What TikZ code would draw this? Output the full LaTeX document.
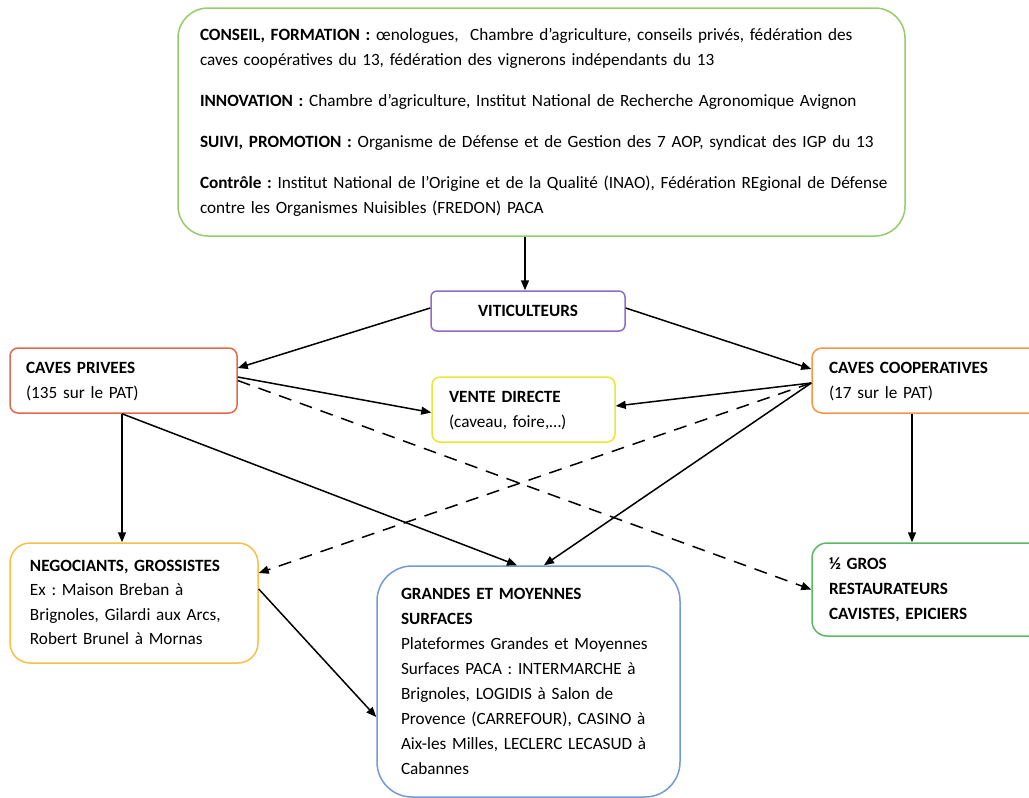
\documentclass[tikz,border=0pt]{standalone}
\usepackage{fontspec}
\setmainfont{Carlito}
\usetikzlibrary{arrows.meta}
\frenchspacing
\definecolor{cTop}{RGB}{150,205,105}
\definecolor{cVit}{RGB}{140,110,200}
\definecolor{cCp}{RGB}{228,105,75}
\definecolor{cVd}{RGB}{238,228,50}
\definecolor{cCc}{RGB}{247,150,75}
\definecolor{cNeg}{RGB}{250,192,70}
\definecolor{cGms}{RGB}{115,155,215}
\definecolor{cGros}{RGB}{90,185,100}
\newcommand{\boxlines}[1]{\begin{tabular}{@{}l@{}}#1\end{tabular}}
\tikzset{
  box/.style={draw, line width=1.5pt, align=left, inner ysep=0pt, font=\fontsize{17.2}{25}\selectfont},
  arr/.style={draw, line width=1.5pt, -{Triangle[length=10pt,width=8pt]}},
  darr/.style={arr, dash pattern=on 13pt off 9pt}
}
\begin{document}
\begin{tikzpicture}[x=1pt,y=-1pt]
\clip (0,0) rectangle (1029,798);
\fill[white] (0,0) rectangle (1029,798);

\node[box, draw=cTop, rounded corners=30pt, text width=683pt, inner xsep=22pt, minimum height=228pt] (top) at (541.5,122)
{\boxlines{\textbf{CONSEIL, FORMATION :} œnologues,\ \ Chambre d’agriculture, conseils privés, fédération des\\
caves coopératives du 13, fédération des vignerons indépendants du 13\\[16pt]
\textbf{INNOVATION :} Chambre d’agriculture, Institut National de Recherche Agronomique Avignon\\[16pt]
\textbf{SUIVI, PROMOTION :} Organisme de Défense et de Gestion des 7 AOP, syndicat des IGP du 13\\[16pt]
\textbf{Contrôle :} Institut National de l’Origine et de la Qualité (INAO), Fédération REgional de Défense\\
contre les Organismes Nuisibles (FREDON) PACA}};

\node[box, draw=cVit, rounded corners=6pt, align=center, text width=160pt, inner xsep=17pt, minimum height=40pt] (vit) at (528,311) {\textbf{VITICULTEURS}};

\node[box, draw=cCp, rounded corners=8pt, text width=195pt, inner xsep=16pt, minimum height=65pt] (cp) at (123.5,380.5)
{\boxlines{\textbf{CAVES PRIVEES}\\(135 sur le PAT)}};

\node[box, draw=cVd, rounded corners=8pt, text width=149pt, inner xsep=17pt, minimum height=65pt] (vd) at (523.5,409.5)
{\boxlines{\textbf{VENTE DIRECTE}\\(caveau, foire,…)}};

\node[box, draw=cCc, rounded corners=10pt, text width=206pt, inner xsep=17pt, minimum height=65pt] (cc) at (932,380.5)
{\boxlines{\textbf{CAVES COOPERATIVES}\\(17 sur le PAT)}};

\node[box, draw=cNeg, rounded corners=20pt, text width=208pt, inner xsep=20pt, minimum height=120pt, font=\fontsize{17.2}{24.4}\selectfont] (neg) at (134,603)
{\boxlines{\textbf{NEGOCIANTS, GROSSISTES}\\Ex : Maison Breban à\\Brignoles, Gilardi aux Arcs,\\Robert Brunel à Mornas}};

\node[box, draw=cGms, rounded corners=35pt, text width=255pt, inner xsep=24pt, minimum height=231pt] (gms) at (528.5,681.5)
{\boxlines{\textbf{GRANDES ET MOYENNES}\\\textbf{SURFACES}\\Plateformes Grandes et Moyennes\\Surfaces PACA : INTERMARCHE à\\Brignoles, LOGIDIS à Salon de\\Provence (CARREFOUR), CASINO à\\Aix-les Milles, LECLERC LECASUD à\\Cabannes}};

\node[box, draw=cGros, rounded corners=15pt, text width=206pt, inner xsep=17pt, minimum height=93pt] (gros) at (932,589.5)
{\boxlines{\textbf{½ GROS}\\\textbf{RESTAURATEURS}\\\textbf{CAVISTES, EPICIERS}}};

\draw[arr] ([xshift=-16.5pt]top.south) -- ([xshift=-3pt]vit.north);
\draw[arr] ([yshift=3pt]vit.west) -- ([yshift=12.5pt]cp.east);
\draw[arr] ([yshift=3pt]vit.east) -- ([yshift=11.5pt]cc.west);
\draw[arr] ([yshift=3.5pt]cp.east) -- ([yshift=-3pt]vd.west);
\draw[arr] ([yshift=-2.5pt]cc.west) -- ([yshift=3.5pt]vd.east);
\draw[darr] (cp.east) -- (gros.west);
\draw[darr] ([yshift=-2.5pt]cc.west) -- ([yshift=30pt]neg.east);
\draw[arr] ([yshift=-2.5pt]cc.west) -- ([xshift=15.5pt]gms.north);
\draw[arr] ([xshift=-1.5pt]cp.south) -- ([xshift=-1.5pt]cp.south |- neg.north);
\draw[arr] ([xshift=-1.5pt]cp.south) -- ([xshift=-11.5pt]gms.north);
\draw[arr] ([xshift=-20pt]cc.south) -- ([xshift=-20pt]cc.south |- gros.north);
\draw[arr] ([yshift=14pt]neg.east) -- ([yshift=-35.5pt]gms.west);
\end{tikzpicture}
\end{document}
